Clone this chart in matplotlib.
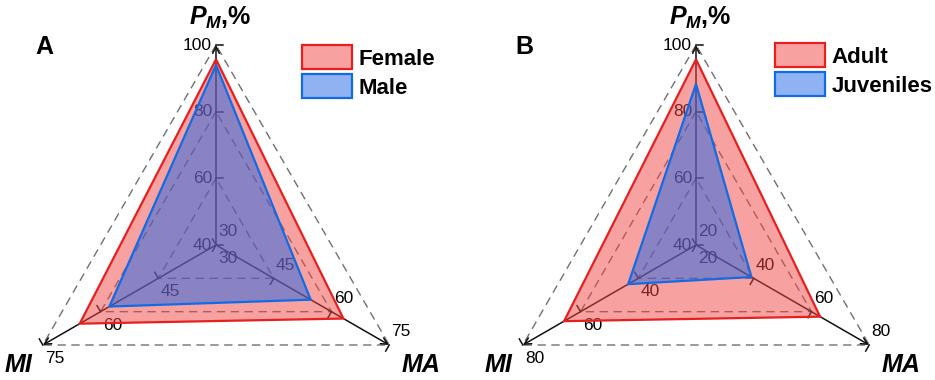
import numpy as np
import matplotlib
matplotlib.use("Agg")
import matplotlib.pyplot as plt

plt.rcParams['font.family'] = ['Liberation Sans', 'DejaVu Sans']
plt.rcParams['mathtext.fontset'] = 'custom'
plt.rcParams['mathtext.it'] = 'Liberation Sans:italic:bold'
plt.rcParams['mathtext.rm'] = 'Liberation Sans:bold'

# axis names (top, lower left, lower right)
axis_names = [r'$P_M$,%', 'MI', 'MA']

# panel A
a_pm_ticks = [40, 60, 80, 100]
a_side_ticks = [30, 45, 60, 75]
female = [95.7, 65.4, 63.1]
male = [94.0, 57.7, 54.6]

# panel B
b_pm_ticks = [40, 60, 80, 100]
b_side_ticks = [20, 40, 60, 80]
adult = [95.7, 65.7, 63.0]
juveniles = [88.3, 43.5, 39.2]

angles = np.deg2rad([90, 210, 330])
RED_FACE = (0.94, 0.27, 0.27, 0.5)
RED_EDGE = (0.91, 0.12, 0.12)
BLUE_FACE = (0.12, 0.40, 0.90, 0.5)
BLUE_EDGE = (0.07, 0.42, 0.90)


def to_xy(vals, pm_ticks, side_ticks):
    los = [pm_ticks[0], side_ticks[0], side_ticks[0]]
    his = [pm_ticks[-1], side_ticks[-1], side_ticks[-1]]
    fr = [(v - lo) / (hi - lo) for v, lo, hi in zip(vals, los, his)]
    return [(f * np.cos(a), f * np.sin(a)) for f, a in zip(fr, angles)]


def draw_panel(ax, letter, pm_ticks, side_ticks, series, labels, legend_anchor):
    n = len(pm_ticks)
    # dashed grid triangles
    for k in range(1, n):
        f = k / (n - 1)
        xs = [f * np.cos(a) for a in angles] + [f * np.cos(angles[0])]
        ys = [f * np.sin(a) for a in angles] + [f * np.sin(angles[0])]
        ax.plot(xs, ys, ls=(0, (6, 4)), color='#707070', lw=1.0, zorder=1)
    # axes with arrows and ticks
    for a in angles:
        u = np.array([np.cos(a), np.sin(a)])
        t = np.array([np.sin(a), -np.cos(a)]) * 0.035
        ax.annotate('', xy=(u[0], u[1]), xytext=(0, 0),
                    arrowprops=dict(arrowstyle='->', lw=1.1, color='#111111',
                                    shrinkA=0, shrinkB=0, mutation_scale=12),
                    zorder=2)
        for k in range(n):
            p = u * k / (n - 1)
            ax.plot([p[0], p[0] + t[0]], [p[1], p[1] + t[1]], color='#111111', lw=1.1, zorder=2)
    # tick labels
    for k in range(n):
        f = k / (n - 1)
        ax.text(-0.02, f, str(pm_ticks[k]), ha='right', va='center', fontsize=12.5, zorder=2)
        mi = (f * np.cos(angles[1]), f * np.sin(angles[1]))
        ma = (f * np.cos(angles[2]), f * np.sin(angles[2]))
        ax.text(mi[0] + 0.06, mi[1] - 0.068, str(side_ticks[k]), ha='center', va='center',
                fontsize=12.5, zorder=2)
        ax.text(ma[0] + 0.06, ma[1] + 0.066, str(side_ticks[k]), ha='center', va='center',
                fontsize=12.5, zorder=2)
    # data polygons
    handles = []
    for vals, face, edge, z in zip(series, [RED_FACE, BLUE_FACE], [RED_EDGE, BLUE_EDGE], [3, 4]):
        pts = to_xy(vals, pm_ticks, side_ticks)
        poly = plt.Polygon(pts, closed=True, facecolor=face, edgecolor=edge, lw=1.6, zorder=z)
        ax.add_patch(poly)
        handles.append(poly)
    # axis names
    ax.text(0.02, 1.135, axis_names[0], ha='center', va='center', fontsize=18,
            fontweight='bold')
    ax.text(np.cos(angles[1]) - 0.12, np.sin(angles[1]) - 0.1, axis_names[1], ha='center',
            va='center', fontsize=18, fontweight='bold', fontstyle='italic')
    ax.text(np.cos(angles[2]) + 0.16, np.sin(angles[2]) - 0.1, axis_names[2], ha='center',
            va='center', fontsize=18, fontweight='bold', fontstyle='italic')
    ax.text(-0.86, 0.99, letter, ha='center', va='center', fontsize=18, fontweight='bold')
    ax.legend(handles, labels, loc='upper left', bbox_to_anchor=legend_anchor,
              bbox_transform=fig.transFigure, frameon=False, borderpad=0,
              handlelength=2.25, handleheight=1.3, labelspacing=0.2,
              handletextpad=0.3, prop={'weight': 'bold', 'size': 16})
    ax.set_aspect('equal')
    ax.axis('off')


fig = plt.figure(figsize=(9.35, 3.8), dpi=100)
ax_a = fig.add_axes([0, 0, 467 / 935, 1])
ax_a.set_xlim(-1.08, 1.255)
ax_a.set_ylim(-0.675, 1.225)
draw_panel(ax_a, 'A', a_pm_ticks, a_side_ticks, [female, male], ['Female', 'Male'],
           (291 / 935, 1 - 34 / 380))

ax_b = fig.add_axes([467 / 935, 0, 468 / 935, 1])
ax_b.set_xlim(-1.145, 1.195)
ax_b.set_ylim(-0.675, 1.225)
draw_panel(ax_b, 'B', b_pm_ticks, b_side_ticks, [adult, juveniles], ['Adult', 'Juveniles'],
           (764 / 935, 1 - 32 / 380))

fig.savefig('out.png', dpi=100)
